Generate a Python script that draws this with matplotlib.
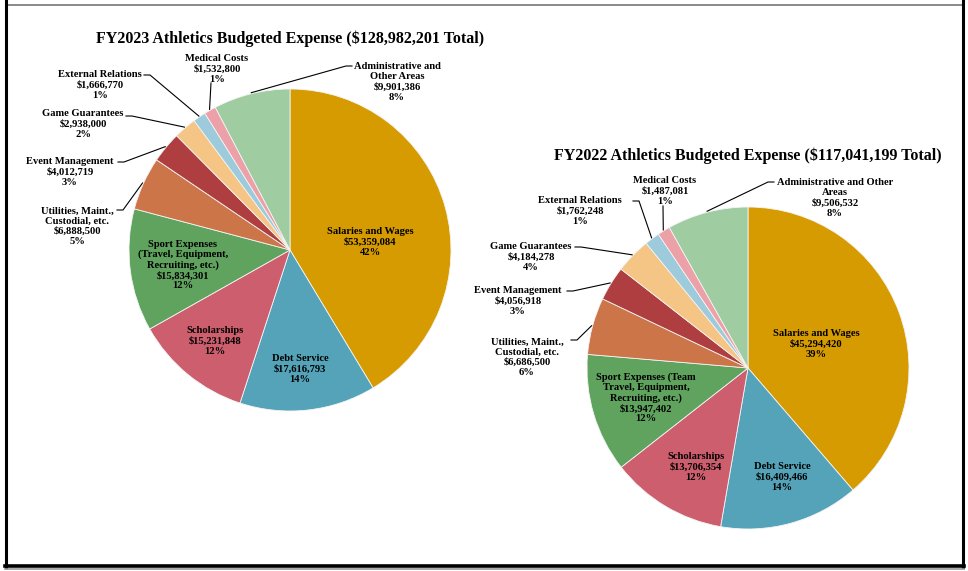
import matplotlib.pyplot as plt
import numpy as np

W, H = 968, 571

# slice order (clockwise from 12 o'clock)
colors = ['#D59B00', '#54A3B8', '#CC5E6E', '#5FA35F', '#CC7548',
          '#AF3E40', '#F4C584', '#9ECBDB', '#ECA0A8', '#A0CCA2']

fy23_names = ['Salaries and Wages', 'Debt Service', 'Scholarships',
              'Sport Expenses\n(Travel, Equipment,\nRecruiting, etc.)',
              'Utilities, Maint.,\nCustodial, etc.', 'Event Management',
              'Game Guarantees', 'External Relations', 'Medical Costs',
              'Administrative and\nOther Areas']
fy23_values = [53359084, 17616793, 15231848, 15834301, 6888500,
               4012719, 2938000, 1666770, 1532800, 9901386]
fy23_pct = ['42%', '14%', '12%', '12%', '5%', '3%', '2%', '1%', '1%', '8%']

fy22_names = ['Salaries and Wages', 'Debt Service', 'Scholarships',
              'Sport Expenses (Team\nTravel, Equipment,\nRecruiting, etc.)',
              'Utilities, Maint.,\nCustodial, etc.', 'Event Management',
              'Game Guarantees', 'External Relations', 'Medical Costs',
              'Administrative and Other\nAreas']
fy22_values = [45294420, 16409466, 13706354, 13947402, 6686500,
               4056918, 4184278, 1762248, 1487081, 9506532]
fy22_pct = ['39%', '14%', '12%', '12%', '6%', '3%', '4%', '1%', '1%', '8%']

# layout in pixels (x from left, y from top)
fy23_label_pos = [(370, 242), (300, 369), (215, 341), (183, 265), (77, 226),
                  (70, 172), (83, 124), (100, 85), (217, 69), (397, 82)]
fy23_leader = [None, None, None, None, (117, 210), (118, 162), (126, 116),
               (144, 75), (211, 83), (352, 66)]
fy22_label_pos = [(816, 344), (782, 477), (696, 467), (646, 398), (527, 357),
                  (518, 301), (531, 257), (580, 211), (665, 191), (835, 198)]
fy22_leader = [None, None, None, None, (571, 340), (567, 291), (575, 247),
               (633, 201), (663, 206), (774, 182)]


def Y(y):
    return H - y


def draw_pie(ax, values, names, pcts, center, radius, label_pos, leaders, title, title_pos):
    wedges, _ = ax.pie(values, colors=colors, startangle=90, counterclock=False,
                       center=(center[0], Y(center[1])), radius=radius,
                       wedgeprops=dict(edgecolor='#f4f4f4', linewidth=0.6))
    for w, name, v, p, pos, lead in zip(wedges, names, values, pcts, label_pos, leaders):
        ax.text(pos[0], Y(pos[1]), f'{name}\n${v:,}\n{p}', ha='center', va='center',
                fontsize=7.6, fontweight='bold', linespacing=1.15)
        if lead is None:
            continue
        mid = np.deg2rad((w.theta1 + w.theta2) / 2)
        ex = w.center[0] + (w.r + 1) * np.cos(mid)
        ey = w.center[1] + (w.r + 1) * np.sin(mid)
        sx, sy = lead[0], Y(lead[1])
        if abs(ex - sx) < 10:
            xs, ys = [sx, ex], [sy, ey]
        else:
            stub = 6 if ex > sx else -6
            xs, ys = [sx, sx + stub, ex], [sy, sy, ey]
        ax.plot(xs, ys, color='black', lw=0.8)
    ax.text(title_pos[0], Y(title_pos[1]), title, ha='center', va='center',
            fontsize=11.5, fontweight='bold')


plt.rcParams['font.family'] = ['Liberation Serif', 'DejaVu Serif']

fig = plt.figure(figsize=(W / 100, H / 100), dpi=100)
ax = fig.add_axes([0, 0, 1, 1])

draw_pie(ax, fy23_values, fy23_names, fy23_pct, (290, 250), 161,
         fy23_label_pos, fy23_leader,
         'FY2023 Athletics Budgeted Expense ($128,982,201 Total)', (290, 39))
draw_pie(ax, fy22_values, fy22_names, fy22_pct, (748, 368), 161,
         fy22_label_pos, fy22_leader,
         'FY2022 Athletics Budgeted Expense ($117,041,199 Total)', (748, 156))

# page frame
ax.plot([7, 963], [Y(5), Y(5)], color='#8a8a8a', lw=1.4)
ax.plot([6, 6], [Y(0), Y(567)], color='black', lw=2.2)
ax.plot([963, 963], [Y(0), Y(567)], color='black', lw=2.2)
ax.plot([5, 964], [Y(566), Y(566)], color='black', lw=2.6)
ax.plot([5, 964], [Y(569), Y(569)], color='#999999', lw=1.2)

ax.set_xlim(0, W)
ax.set_ylim(0, H)
ax.set_aspect('auto')
ax.axis('off')

fig.savefig('out.png', dpi=100)
